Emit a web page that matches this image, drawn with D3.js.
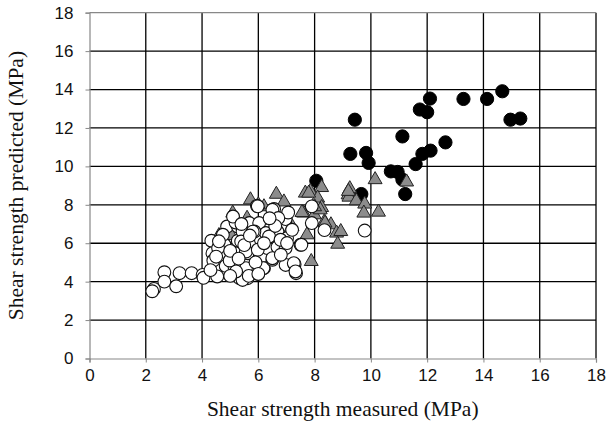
<!DOCTYPE html>
<html>
<head>
<meta charset="utf-8">
<script src="https://cdn.jsdelivr.net/npm/d3@7"></script>
<style>
html,body{margin:0;padding:0;background:#fff;}
svg{display:block;}
</style>
</head>
<body>
<svg id="chart" width="608" height="423"></svg>
<script>
// ---- data ----
const xTicks = [0,2,4,6,8,10,12,14,16,18];
const yTicks = [0,2,4,6,8,10,12,14,16,18];
const xTitle = "Shear strength measured (MPa)";
const yTitle = "Shear strength predicted (MPa)";

const blackPts = [
  [9.43,12.43],[9.27,10.65],[9.83,10.70],[9.92,10.18],[8.06,9.25],[9.66,8.56],
  [10.71,9.74],[10.95,9.71],[11.12,9.31],[11.22,8.56],[11.12,11.56],[11.59,10.12],
  [11.83,10.65],[12.12,10.82],[12.65,11.25],[11.74,12.96],[12.0,12.82],[12.1,13.53],
  [13.29,13.51],[14.13,13.51],[14.67,13.91],[14.96,12.43],[15.31,12.49]
];

const triPts = [
  [10.15,9.31],[11.27,9.19],[8.25,8.9],[7.85,8.7],[9.25,8.84],[9.19,8.52],[9.22,8.4],
  [9.48,8.21],[9.78,8.04],[9.75,7.57],[10.27,7.62],[8.11,8.35],[7.61,7.57],[8.25,7.86],
  [7.99,7.48],[8.35,7.13],[8.58,6.96],[8.78,6.53],[8.93,6.61],[8.82,5.95],[7.73,6.44],
  [7.2,6.87],[7.88,5.05],[5.72,8.26],[6.64,8.55],[6.91,8.15],[5.09,7.57],[5.04,6.4],
  [7.14,6.75],[7.55,7.6],[7.67,8.61],[7.79,8.61],[8.2,7.74],[8.37,7.05],[9.2,8.7],
  [5.6,7.3],[6.2,7.9],[4.6,6.4],[6.0,8.0],[6.3,7.2],[8.0,7.9]
];

const whitePts = [
  [2.29,3.62],[2.23,3.5],[2.66,4.49],[2.66,4.0],[3.08,3.76],[3.2,4.44],[3.63,4.44],
  [4.02,4.35],[4.05,4.2],[4.33,6.13],[4.37,5.48],[4.57,4.79],[4.54,4.27],[4.8,5.92],
  [4.72,5.34],[4.89,6.87],[4.84,4.82],[4.74,6.44],[4.57,5.75],[4.4,5.1],[4.3,4.6],
  [5.27,6.87],[5.21,5.48],[5.15,4.79],[5.33,4.18],[5.62,5.48],[5.68,7.05],[5.62,4.18],
  [5.56,4.7],[5.74,6.09],[6.03,6.53],[6.15,5.31],[6.2,4.7],[5.19,7.08],[5.27,6.13],
  [5.44,4.09],[5.66,4.3],[5.95,7.95],[6.03,7.05],[6.09,6.18],[6.18,4.7],[6.27,6.53],
  [6.32,5.75],[6.41,6.35],[6.56,7.78],[6.62,7.31],[6.68,6.61],[6.68,5.8],[6.5,5.14],
  [6.97,7.26],[7.06,7.6],[7.02,6.27],[6.97,5.75],[6.97,4.87],[7.29,4.91],[7.34,4.44],
  [7.5,5.92],[7.9,7.92],[7.9,7.05],[8.35,6.68],[9.78,6.66],[5.86,6.61],[5.44,6.61],
  [5.98,7.92],[6.5,7.74],[6.71,7.31],[5.1,7.39],[6.38,6.35],[5.39,6.09],[6.79,6.18],
  [7.02,6.01],[5.56,5.57],[5.98,5.66],[6.5,5.22],[5.21,4.53],[7.26,4.96],[7.32,4.53],
  [7.53,5.92],[4.98,5.1],[5.9,5.0],[6.6,6.9],[5.5,5.9],[4.6,6.1],[5.0,5.6],[6.8,5.4],
  [5.3,5.2],[5.8,6.6],[6.2,6.0],[5.0,4.3],[7.2,6.7],[6.4,7.3],[5.7,6.4],[4.5,5.3],
  [6.0,4.4],[5.4,7.0]
];

// ---- layout ----
const svg = d3.select("#chart");
const mLeft = 89.5, mRight = 596, mTop = 12.7, mBottom = 358.5;
const x = d3.scaleLinear().domain([0,18]).range([mLeft,mRight]);
const y = d3.scaleLinear().domain([0,18]).range([mBottom,mTop]);

// gridlines
const grid = svg.append("g");
grid.selectAll("line.v").data(xTicks.filter(d=>d>0)).join("line")
  .attr("x1",d=>x(d)).attr("x2",d=>x(d)).attr("y1",y(0)).attr("y2",y(18))
  .attr("stroke","#000").attr("stroke-width",1.3);
grid.selectAll("line.h").data(yTicks.filter(d=>d>0 && d<18)).join("line")
  .attr("x1",x(0)).attr("x2",x(18)).attr("y1",d=>y(d)).attr("y2",d=>y(d))
  .attr("stroke","#000").attr("stroke-width",1.3);
grid.append("line").attr("x1",x(0)).attr("x2",x(18)).attr("y1",y(18)).attr("y2",y(18))
  .attr("stroke","#888").attr("stroke-width",1.2);

// axes
const xAxis = svg.append("g").attr("transform",`translate(0,${mBottom})`)
  .call(d3.axisBottom(x).tickValues(xTicks).tickSize(4).tickPadding(6).tickFormat(d3.format("d")));
const yAxis = svg.append("g").attr("transform",`translate(${mLeft},0)`)
  .call(d3.axisLeft(y).tickValues(yTicks).tickSize(4).tickPadding(12).tickFormat(d3.format("d")));
[xAxis,yAxis].forEach(a=>{
  a.select(".domain").attr("stroke","#888").attr("stroke-width",1.2);
  a.selectAll(".tick line").attr("stroke","#888");
  a.selectAll(".tick text").attr("fill","#111")
    .style("font-family","'Liberation Sans', Arial, sans-serif").style("font-size","17px");
});

// marks
const sym = d3.symbol().type(d3.symbolTriangle).size(84);
svg.append("g").selectAll("circle").data(blackPts).join("circle")
  .attr("cx",d=>x(d[0])).attr("cy",d=>y(d[1])).attr("r",6.6)
  .attr("fill","#000").attr("stroke","#000");
svg.append("g").selectAll("path").data(triPts).join("path")
  .attr("d",sym).attr("transform",d=>`translate(${x(d[0])},${y(d[1])})`)
  .attr("fill","#8c8c8c").attr("stroke","#222").attr("stroke-width",1);
svg.append("g").selectAll("circle").data(whitePts).join("circle")
  .attr("cx",d=>x(d[0])).attr("cy",d=>y(d[1])).attr("r",6.4)
  .attr("fill","#fff").attr("stroke","#111").attr("stroke-width",1.1);

// titles
svg.append("text").attr("x",(mLeft+mRight)/2).attr("y",416).attr("text-anchor","middle")
  .style("font-family","'Liberation Serif', 'Times New Roman', serif").style("font-size","21.5px")
  .attr("fill","#111").text(xTitle);
svg.append("text").attr("transform",`translate(23,${(mTop+mBottom)/2}) rotate(-90)`)
  .attr("text-anchor","middle")
  .style("font-family","'Liberation Serif', 'Times New Roman', serif").style("font-size","21.5px")
  .attr("fill","#111").text(yTitle);
</script>
</body>
</html>
